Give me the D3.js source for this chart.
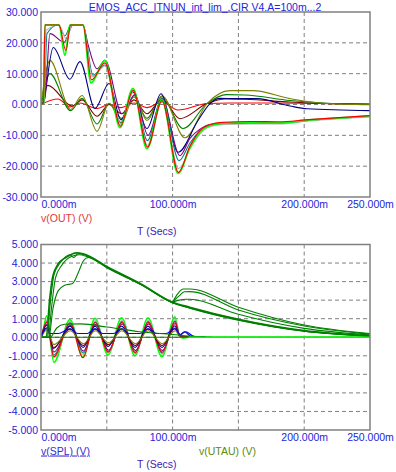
<!DOCTYPE html>
<html>
<head>
<meta charset="utf-8">
<script src="https://cdn.jsdelivr.net/npm/d3@7"></script>
<style>
body { margin: 0; background: #fff; }
text { font-family: Arial, "Liberation Sans", sans-serif; }
</style>
</head>
<body>
<div id="chart"></div>
<script>
// ---- v(OUT) traces, [time ms, volts] ----
var outRedSmall = [[0,0],[12.9,1.8],[22,-0.8],[29.6,0.5],[42.6,-1.3],[51.7,0],[60.8,-1],[70.7,0.5],[80.5,-1],[91.9,0.8],[104.1,-1.8],[126.1,0.3],[143.6,0.5],[166.4,0.5],[196.8,0.4],[250,0.2]];
var outMaroon = [[0,0],[5.3,6.2],[23.6,-0.5],[31.2,1.5],[42.6,-3.8],[51.7,0],[61.2,-3],[70.7,1.5],[80.5,-3],[91.9,1.8],[105.6,-4.6],[126.1,0.3],[139.8,1.8],[155,1.7],[189.2,0.8],[214.3,0.3],[250,0]];
var outGreen = [[0,0],[6.8,10],[22.5,-2],[31.2,2],[42.6,-6.3],[51.7,0.3],[61.2,-4.5],[70.7,2.5],[80.5,-4.5],[91.9,2.5],[107.9,-7.8],[126.1,0.3],[141,3.2],[155,3.1],[189.2,1.3],[214.3,0.5],[250,0]];
var outOlive = [[0,0],[6.8,14.3],[22.5,-1.6],[31.2,2.9],[42.6,-8.7],[51.7,0.5],[61.2,-6],[70.7,3],[80.5,-5.2],[91.9,2.8],[109.4,-10.8],[126.1,0.3],[143.6,4.5],[161.1,4.5],[189.2,1.9],[214.3,0.4],[250,-0.1]];
var outNavy = [[0,0],[1.5,0.6],[9.3,18.5],[22,8.2],[29.6,13.9],[41,-1.3],[51.7,6.8],[60.8,-5],[69.9,4],[80.5,-7.8],[91.2,3.5],[104.1,-15.5],[119.3,-5.2],[128.4,0.3],[136,2],[147.4,1.9],[164.1,1.9],[189.2,-0.5],[202,-1.4],[250,-2]];
var outPurple = [[0,0],[3,2],[6.8,23],[17.5,20.2],[24.3,25.8],[31.9,25.8],[35.7,19.5],[42.6,11.6],[48.6,14.3],[61.6,-3],[71.4,3.2],[81.3,-10],[91.9,2],[105.6,-16.6],[113.2,-11],[120.8,-8],[128.4,-6.5],[138.3,-6.2],[158.8,-6],[181.6,-5.9],[200.6,-5.2],[250,-3.8]];
var outTeal = [[0,0],[2.3,0.5],[4.5,23],[12.9,25.8],[18.2,22.3],[22.8,25.8],[31.9,25.8],[39.5,9.5],[48.6,12.8],[60.4,-6],[70.3,4.5],[80.9,-11.7],[91.9,2],[104.9,-18.2],[113.2,-12.5],[120.8,-8.5],[128.4,-6.8],[138.3,-6.3],[158.8,-6.1],[181.6,-6.1],[200.6,-5.3],[250,-3.9]];
var outGray = [[0,0],[2.3,0.5],[3.8,24],[13.7,25.8],[19.5,21],[23.6,25.8],[31.9,25.8],[39,9],[48.6,12.5],[60.8,-6.5],[70.3,4.2],[80.9,-13.2],[91.9,1],[104.5,-20.8],[113.2,-14.5],[120.8,-9.5],[128.4,-7.2],[138.3,-6.5],[158.8,-6.3],[181.6,-6.3],[200.6,-5.4],[250,-4]];
var outLime = [[0,0],[1.9,0.5],[3,25.8],[13.7,25.8],[18.2,16],[22,25.8],[31.9,25.8],[38,7],[48.6,14.3],[60,-7.5],[69.9,5.2],[80.5,-14.3],[91.9,1.5],[104.1,-22.3],[113.2,-14],[120.8,-9],[128.4,-6.8],[138.3,-6.1],[158.8,-5.8],[181.6,-6],[200.6,-5.2],[250,-3.8]];
var outRedBig = [[0,0],[1.9,0.5],[3,25.8],[13.7,25.8],[18.9,17.5],[22.5,25.8],[31.9,25.8],[38.4,8],[48.6,13.5],[60.4,-7],[69.9,4.6],[80.9,-13.8],[91.9,1.2],[104.5,-22],[113.2,-13.5],[120.8,-8.5],[128.4,-6.5],[138.3,-5.8],[158.8,-5.5],[181.6,-5.6],[200.6,-5],[250,-3.6]];

// ---- v(SPL) traces ----
var splBlue = [[0,0],[4.3,0.5],[7,0.2],[13,0.2],[22,0.45],[28,0.2],[35,0.2],[41,0.45],[47,0.2],[55,0.2],[61.3,0.45],[67,0.2],[75,0.2],[81.3,0.45],[88,0.2],[95,0.2],[101.8,0.45],[106,0.15],[110,0.3],[116,0.05],[125,0]];
var splOlive = [[0,0],[4.5,0.4],[9.8,-0.4],[22.3,0.35],[32.3,-0.35],[41.3,0.35],[51.3,-0.3],[61.5,0.35],[71.8,-0.35],[81.5,0.35],[92.2,-0.35],[102,0.35],[106,0],[125,0]];
var splMaroon = [[0,0],[4.4,0.5],[9.6,-0.55],[22.2,0.45],[32.1,-0.45],[41.2,0.45],[51.1,-0.4],[61.4,0.45],[71.6,-0.45],[81.4,0.45],[92,-0.45],[101.9,0.5],[106,0.05],[125,0]];
var splNavy = [[0,0],[4.3,0.65],[9.5,-0.6],[22.1,0.6],[32,-0.55],[41.1,0.6],[51,-0.5],[61.3,0.6],[71.5,-0.55],[81.3,0.6],[92,-0.55],[101.8,0.62],[105,0.1],[109,0.3],[114,0.05],[125,0]];
var splRed = [[0,0],[4.4,0.8],[9.7,-1.05],[22.2,0.75],[31.8,-1.1],[41.2,0.8],[51,-0.8],[61.4,0.8],[71.5,-0.85],[81.4,0.8],[92,-0.8],[101.9,0.85],[105.5,0.05],[125,0]];
var splPurple = [[0,0],[4.5,0.7],[9.8,-0.8],[22.4,0.65],[32.2,-0.75],[41.4,0.7],[51.3,-0.7],[61.6,0.72],[71.8,-0.72],[81.6,0.72],[92.2,-0.72],[102,0.75],[105.5,0.05],[125,0]];
var splTeal = [[0,0],[4.4,0.85],[9.7,-0.95],[22.3,0.78],[32.1,-0.85],[41.3,0.82],[51.2,-0.78],[61.5,0.85],[71.7,-0.8],[81.5,0.85],[92.1,-0.85],[101.9,0.88],[105.5,0.08],[125,0]];
var splGray = [[0,0],[1.8,0.2],[4.6,0.95],[9.8,-1.1],[22.4,0.85],[32.2,-0.95],[41.4,0.9],[51.3,-0.85],[61.6,0.92],[71.8,-0.88],[81.6,0.92],[92.2,-0.92],[102,0.95],[105.5,0.1],[109,0],[125,0]];
var splLime = [[0,0],[1.5,0.3],[4.3,1.15],[9.8,-1.35],[22,0.95],[31.9,-1.08],[41,1.02],[50.9,-0.95],[61.3,1.05],[71.4,-1],[81.3,1.05],[91.9,-1.05],[101.8,1.1],[105,0.1],[108,-0.05],[112,0],[250,0]];

// ---- v(UTAU) traces ----
var utauZero = [[0,0],[250,0]];
var utauMain1 = [[0,0],[4,0],[6.5,2],[9,3.3],[13,3.95],[19,4.3],[27,4.55],[32,4.5],[51,3.77],[76,2.87],[100,1.89],[113,1.62],[150,0.97],[200,0.36],[250,0.08]];
var utauMain2 = [[0,0],[4.6,0],[7,1.8],[10,3.4],[15,4.05],[22,4.45],[25,4.3],[28,4.5],[33,4.45],[51,3.74],[76,2.85],[100,1.87],[113,1.6],[150,0.95],[200,0.34],[250,0.07]];
var utauMain3 = [[0,0],[5.5,0],[8,1.6],[11,3.2],[16,3.9],[23,4.35],[29,4.45],[35,4.35],[51,3.72],[76,2.84],[100,1.86],[113,1.58],[150,0.93],[200,0.33],[250,0.06]];
var utauSlow1 = [[0,0],[6,0],[9,1.5],[13,2.5],[18,2.8],[24,2.9],[29,3.6],[32,4.1],[36,4.3],[51,3.7],[76,2.83],[100,1.85],[113,1.57],[150,0.92],[200,0.32],[250,0.06]];
var utauSlow2 = [[0,0],[7,0],[12,0.5],[18,0.7],[30,0.72],[50,0.55],[75,0.3],[100,0.15],[115,0.05],[130,0]];
var utauBranch1 = [[100,1.9],[104,2.35],[108,2.6],[113,2.6],[150,1.62],[200,0.66],[250,0.2]];
var utauBranch2 = [[100,1.9],[104.5,2.2],[109,2.45],[113,2.46],[150,1.47],[200,0.61],[250,0.17]];
var utauBranch3 = [[100,1.9],[105,2],[110,2.05],[113,2.05],[150,1.24],[200,0.48],[250,0.13]];

var titleText = "EMOS_ACC_ITNUN_int_lim_.CIR V4.A=100m...2";
var xTicks = [0, 100, 200, 250];
var xGrid = [50, 100, 150, 200];
var yTopTicks = [30, 20, 10, 0, -10, -20, -30];
var yBotTicks = [5, 4, 3, 2, 1, 0, -1, -2, -3, -4, -5];

var W = 396, H = 472;
var svg = d3.select("#chart").append("svg")
  .attr("width", W).attr("height", H);

var x = d3.scaleLinear().domain([0, 250]).range([41, 370]);
var yTop = d3.scaleLinear().domain([-30, 30]).range([197, 12]);
var yBot = d3.scaleLinear().domain([-5, 5]).range([430, 244.5]);

var labelBlue = "#2323dc";

function drawPanel(y, yTicks, fmtY) {
  var g = svg.append("g");
  var y0 = y.range()[0], y1 = y.range()[1];
  // dashed grid
  g.selectAll(".vg").data(xGrid).enter().append("line")
    .attr("x1", function(d){ return x(d); }).attr("x2", function(d){ return x(d); })
    .attr("y1", y1).attr("y2", y0)
    .attr("stroke", "#808080").attr("stroke-dasharray", "4,3");
  g.selectAll(".hg").data(yTicks.slice(1, -1)).enter().append("line")
    .attr("x1", x(0)).attr("x2", x(250))
    .attr("y1", function(d){ return y(d); }).attr("y2", function(d){ return y(d); })
    .attr("stroke", "#808080").attr("stroke-dasharray", "4,3");

  // y tick labels
  var ya = svg.append("g").attr("transform", "translate(" + x(0) + ",0)")
    .call(d3.axisLeft(y).tickValues(yTicks).tickSize(0).tickPadding(3).tickFormat(fmtY));
  ya.select(".domain").remove();
  ya.selectAll("text").attr("fill", labelBlue).style("font-size", "10.5px")
    .style("font-family", "Arial, 'Liberation Sans', sans-serif");

  // x tick labels
  var xa = svg.append("g").attr("transform", "translate(0," + y0 + ")")
    .call(d3.axisBottom(x).tickValues(xTicks).tickSize(0).tickPadding(4)
      .tickFormat(function(d){ return d.toFixed(3) + "m"; }));
  xa.select(".domain").remove();
  xa.selectAll("text").attr("fill", labelBlue).style("font-size", "10.5px")
    .style("font-family", "Arial, 'Liberation Sans', sans-serif")
    .attr("text-anchor", function(d){ return d === 0 ? "start" : "middle"; });
  return g;
}

function drawFrame(y) {
  svg.append("rect")
    .attr("x", x(0)).attr("y", y.range()[1])
    .attr("width", x(250) - x(0)).attr("height", y.range()[0] - y.range()[1])
    .attr("fill", "none").attr("stroke", "#808080").attr("stroke-width", 1.5);
}

function drawTraces(y, list, clipId) {
  var line = d3.line()
    .x(function(d){ return x(d[0]); })
    .y(function(d){ return y(d[1]); })
    .curve(d3.curveMonotoneX);
  svg.append("clipPath").attr("id", clipId).append("rect")
    .attr("x", x(0)).attr("y", y.range()[1])
    .attr("width", x(250) - x(0)).attr("height", y.range()[0] - y.range()[1]);
  svg.append("g").attr("clip-path", "url(#" + clipId + ")")
    .selectAll("path").data(list).enter().append("path")
    .attr("d", function(d){ return line(d.data); })
    .attr("fill", "none")
    .attr("stroke", function(d){ return d.color; })
    .attr("stroke-width", function(d){ return d.w || 1.1; });
}

// ---- top panel ----
drawPanel(yTop, yTopTicks, function(d){ return d.toFixed(3); });
drawTraces(yTop, [
  {data: outRedSmall, color: "#ff0000"},
  {data: outMaroon, color: "#800000"},
  {data: outGreen, color: "#008000"},
  {data: outOlive, color: "#808000"},
  {data: outNavy, color: "#000080"},
  {data: outPurple, color: "#800080"},
  {data: outTeal, color: "#008080"},
  {data: outGray, color: "#b4b4b4"},
  {data: outLime, color: "#00ff00", w: 1.8},
  {data: outRedBig, color: "#ff0000"}
], "clipTop");
drawFrame(yTop);

// ---- bottom panel ----
drawPanel(yBot, yBotTicks, function(d){ return d.toFixed(3); });
drawTraces(yBot, [
  {data: splLime, color: "#00ff00", w: 1.6},
  {data: splGray, color: "#b4b4b4"},
  {data: splTeal, color: "#008080"},
  {data: splPurple, color: "#800080"},
  {data: splRed, color: "#ff0000"},
  {data: splNavy, color: "#000080"},
  {data: splMaroon, color: "#800000"},
  {data: splOlive, color: "#808000"},
  {data: splBlue, color: "#0000ff"},
  {data: utauZero, color: "#008000"},
  {data: utauSlow2, color: "#008000"},
  {data: utauSlow1, color: "#008000"},
  {data: utauMain3, color: "#008000"},
  {data: utauMain2, color: "#008000"},
  {data: utauMain1, color: "#008000", w: 1.6},
  {data: utauBranch1, color: "#008000"},
  {data: utauBranch2, color: "#008000"},
  {data: utauBranch3, color: "#008000"}
], "clipBot");
// lime zero line after the burst sits on top
svg.append("path")
  .attr("d", d3.line().x(function(d){ return x(d[0]); }).y(function(d){ return yBot(d[1]); })(splLime.slice(-2)))
  .attr("stroke", "#00ff00").attr("stroke-width", 1.6).attr("fill", "none");
drawFrame(yBot);

// ---- titles and labels ----
svg.append("text").attr("x", 205).attr("y", 11)
  .attr("text-anchor", "middle").attr("fill", labelBlue)
  .style("font-size", "10.5px").text(titleText);

svg.append("text").attr("x", 41).attr("y", 222)
  .attr("fill", "#e03a3a").style("font-size", "10.5px").text("v(OUT) (V)");
svg.append("text").attr("x", 137).attr("y", 234.5)
  .attr("fill", "#4020b8").style("font-size", "10.5px").text("T (Secs)");

svg.append("text").attr("x", 41).attr("y", 454.5)
  .attr("fill", "#3a2ad0").style("font-size", "10.5px")
  .style("text-decoration", "underline").text("v(SPL) (V)");
svg.append("text").attr("x", 199).attr("y", 454.5)
  .attr("fill", "#5a8a10").style("font-size", "10.5px").text("v(UTAU) (V)");
svg.append("text").attr("x", 137).attr("y", 468)
  .attr("fill", "#4020b8").style("font-size", "10.5px").text("T (Secs)");
</script>
</body>
</html>
